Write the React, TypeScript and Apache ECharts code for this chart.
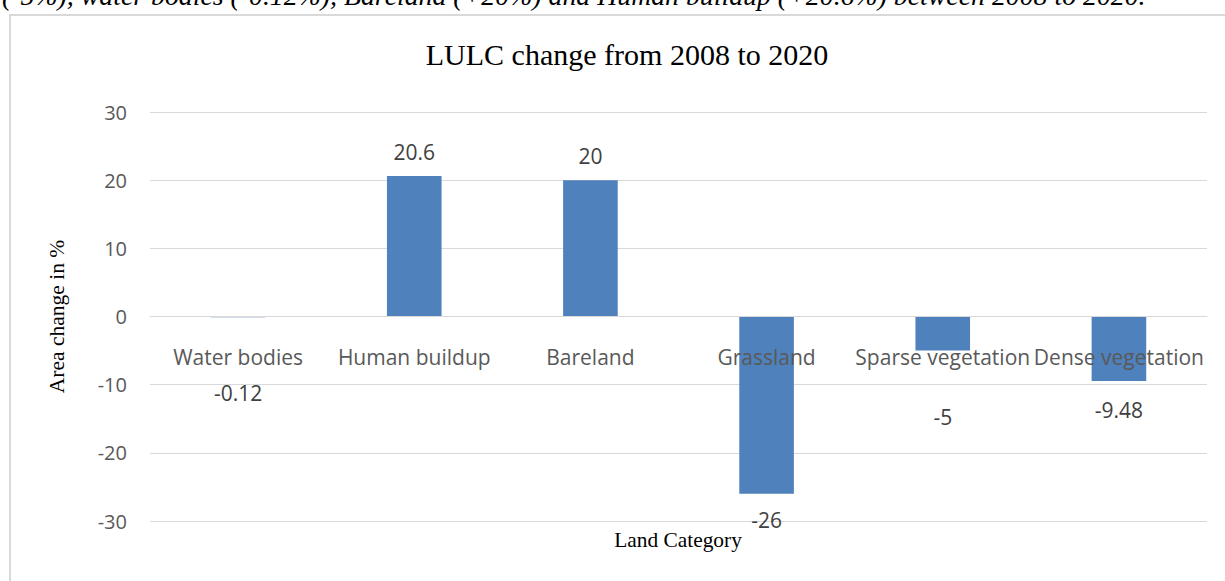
import React, { useEffect, useRef } from "react";
import * as echarts from "echarts";

const categories = [
  "Water bodies",
  "Human buildup",
  "Bareland",
  "Grassland",
  "Sparse vegetation",
  "Dense vegetation",
];
const areaChange = [-0.12, 20.6, 20, -26, -5, -9.48];
const labelDistance = [64, 12, 12, 14, 54, 17];
const yTicks = { min: -30, max: 30, interval: 10 };
const titleText = "LULC change from 2008 to 2020";
const xName = "Land Category";
const yName = "Area change in %";
const captionText =
  "(-5%), water bodies (-0.12%), Bareland (+20%) and Human buildup (+20.6%) between 2008 to 2020.";

export default function App() {
  const ref = useRef<HTMLDivElement>(null);
  useEffect(() => {
    if (!ref.current) return;
    const chart = echarts.init(ref.current, null, { renderer: "svg" });
    const serif = "'Liberation Serif', 'Times New Roman', serif";
    const sans = "'Open Sans', 'Noto Sans', sans-serif";
    const gridTop = 112;
    const gridBottom = 60;
    const plotH = 581 - gridTop - gridBottom;
    chart.setOption({
      animation: false,
      backgroundColor: "#ffffff",
      grid: { left: 150, right: 18, top: gridTop, bottom: gridBottom },
      xAxis: {
        type: "category",
        data: categories,
        position: "bottom",
        offset: -plotH / 2,
        z: 10,
        axisLine: { onZero: false, lineStyle: { color: "#d9d9d9", width: 1 } },
        axisTick: { show: false },
        axisLabel: {
          interval: 0,
          hideOverlap: false,
          margin: 28,
          fontFamily: sans,
          fontSize: 21,
          lineHeight: 24,
          color: "#595959",
        },
      },
      yAxis: {
        type: "value",
        min: yTicks.min,
        max: yTicks.max,
        interval: yTicks.interval,
        name: yName,
        nameLocation: "middle",
        nameGap: 82,
        nameRotate: 90,
        nameTextStyle: { fontFamily: serif, fontSize: 21.5, color: "#000" },
        axisLine: { show: false },
        axisTick: { show: false },
        axisLabel: { margin: 23, fontFamily: sans, fontSize: 20, color: "#595959" },
        splitLine: { lineStyle: { color: "#d9d9d9", width: 1 } },
      },
      graphic: [
        {
          type: "rect",
          z: -1,
          shape: { x: 10, y: 15, width: 1230, height: 580 },
          style: { fill: "#fff", stroke: "#d9d9d9", lineWidth: 2 },
        },
        {
          type: "text",
          x: 2,
          y: 9,
          style: {
            text: captionText,
            fontFamily: serif,
            fontStyle: "italic",
            fontSize: 27.8,
            fill: "#000",
            textVerticalAlign: "bottom",
          },
        },
        {
          type: "text",
          x: 627,
          y: 54,
          style: {
            text: titleText,
            fontFamily: serif,
            fontSize: 30,
            fill: "#000",
            textAlign: "center",
            textVerticalAlign: "middle",
          },
        },
        {
          type: "text",
          x: 678,
          y: 540,
          style: {
            text: xName,
            fontFamily: serif,
            fontSize: 21.4,
            fill: "#000",
            textAlign: "center",
            textVerticalAlign: "middle",
          },
        },
      ],
      series: [
        {
          type: "bar",
          barWidth: "31%",
          itemStyle: { color: "#4f81bd" },
          data: areaChange.map((v, i) => ({
            value: v,
            label: {
              show: true,
              position: v >= 0 ? "top" : "bottom",
              distance: labelDistance[i],
              fontFamily: sans,
              fontSize: 21,
              lineHeight: 24,
              color: "#404040",
            },
          })),
        },
      ],
    });
    return () => chart.dispose();
  }, []);
  return (
    <div
      ref={ref}
      style={{ position: "fixed", left: 0, top: 0, width: 1225, height: 581 }}
    />
  );
}
